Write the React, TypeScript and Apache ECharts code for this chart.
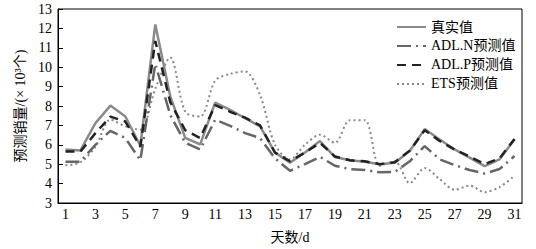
import React, { useEffect, useRef } from "react";
import * as echarts from "echarts";

const days = Array.from({ length: 31 }, (_, i) => String(i + 1));
const realValues = [5.76, 5.71, 7.12, 8.02, 7.46, 5.95, 12.2, 8.5, 6.36, 6.02, 8.17, 7.8, 7.37, 6.95, 5.6, 5.08, 5.6, 6.19, 5.37, 5.2, 5.13, 5.0, 5.08, 5.68, 6.81, 6.27, 5.76, 5.34, 4.9, 5.25, 6.27];
const adlNValues = [5.13, 5.13, 6.0, 6.72, 6.35, 5.2, 10.17, 7.54, 6.1, 5.76, 7.29, 6.98, 6.6, 6.35, 5.3, 4.66, 5.0, 5.38, 4.92, 4.75, 4.7, 4.58, 4.6, 5.15, 5.93, 5.25, 4.95, 4.7, 4.52, 4.75, 5.42];
const adlPValues = [5.65, 5.65, 6.6, 7.45, 7.2, 5.9, 11.35, 8.2, 6.75, 6.35, 8.05, 7.7, 7.4, 7.0, 5.6, 5.15, 5.6, 6.1, 5.4, 5.2, 5.15, 5.0, 5.1, 5.7, 6.75, 6.2, 5.75, 5.4, 5.0, 5.3, 6.3];
const etsValues = [4.95, 5.1, 5.9, 7.3, 6.95, 6.78, 8.9, 10.5, 7.7, 7.46, 9.3, 9.66, 9.78, 8.56, 6.0, 5.25, 6.0, 6.52, 6.1, 7.27, 7.27, 4.92, 5.15, 4.02, 4.8, 4.23, 3.68, 3.9, 3.56, 3.82, 4.4];
const seriesNames = ["真实值", "ADL.N预测值", "ADL.P预测值", "ETS预测值"];

const FONT = "'Liberation Serif', 'Noto Sans CJK SC', serif";

export default function App() {
  const ref = useRef<HTMLDivElement>(null);
  useEffect(() => {
    if (!ref.current) return;
    const chart = echarts.init(ref.current, null, { renderer: "svg" });
    chart.setOption({
      animation: false,
      backgroundColor: "#fff",
      textStyle: { fontFamily: FONT, color: "#000" },
      grid: {
        left: 58,
        top: 9,
        right: 14,
        bottom: 43,
        show: true,
        borderColor: "#000",
        borderWidth: 1,
      },
      legend: {
        orient: "vertical",
        left: 391,
        top: 15,
        itemWidth: 29,
        itemHeight: 10,
        itemGap: 5,
        itemStyle: { opacity: 0, borderWidth: 0 },
        textStyle: { fontFamily: FONT, fontSize: 14, color: "#000" },
        data: seriesNames,
      },
      xAxis: {
        type: "category",
        data: days,
        boundaryGap: true,
        name: "天数/d",
        nameLocation: "middle",
        nameGap: 27,
        nameTextStyle: { fontFamily: FONT, fontSize: 14, color: "#000" },
        axisLine: { lineStyle: { color: "#000", width: 1 } },
        axisTick: { inside: true, alignWithLabel: true, interval: 0, length: 5, lineStyle: { color: "#000" } },
        axisLabel: { interval: 1, fontFamily: FONT, fontSize: 14, color: "#000", margin: 4 },
        splitLine: { show: false },
      },
      yAxis: {
        type: "value",
        min: 3,
        max: 13,
        interval: 1,
        name: "预测销量/(× 10³个)",
        nameLocation: "middle",
        nameGap: 31,
        nameRotate: 90,
        nameTextStyle: { fontFamily: FONT, fontSize: 14, color: "#000" },
        axisLine: { show: true, lineStyle: { color: "#000", width: 1 } },
        axisTick: { show: true, inside: true, length: 5, lineStyle: { color: "#000" } },
        axisLabel: { fontFamily: FONT, fontSize: 14, color: "#000", margin: 6 },
        splitLine: { show: false },
      },
      series: [
        {
          name: seriesNames[0],
          type: "line",
          data: realValues,
          symbol: "none",
          lineStyle: { color: "#8a8a8a", width: 2.5, type: "solid" },
          itemStyle: { color: "#8a8a8a" },
          z: 2,
        },
        {
          name: seriesNames[1],
          type: "line",
          data: adlNValues,
          symbol: "none",
          lineStyle: { color: "#666", width: 2.5, type: [14, 5, 2, 5] },
          itemStyle: { color: "#666" },
          z: 3,
        },
        {
          name: seriesNames[2],
          type: "line",
          data: adlPValues,
          symbol: "none",
          lineStyle: { color: "#222", width: 2.5, type: [9, 6] },
          itemStyle: { color: "#222" },
          z: 4,
        },
        {
          name: seriesNames[3],
          type: "line",
          data: etsValues,
          symbol: "none",
          smooth: 0.3,
          lineStyle: { color: "#888", width: 2, type: [2, 3] },
          itemStyle: { color: "#888" },
          z: 1,
        },
      ],
    });
    return () => chart.dispose();
  }, []);
  return (
    <div
      ref={ref}
      style={{ position: "fixed", left: 0, top: 0, width: 536, height: 249 }}
    />
  );
}
